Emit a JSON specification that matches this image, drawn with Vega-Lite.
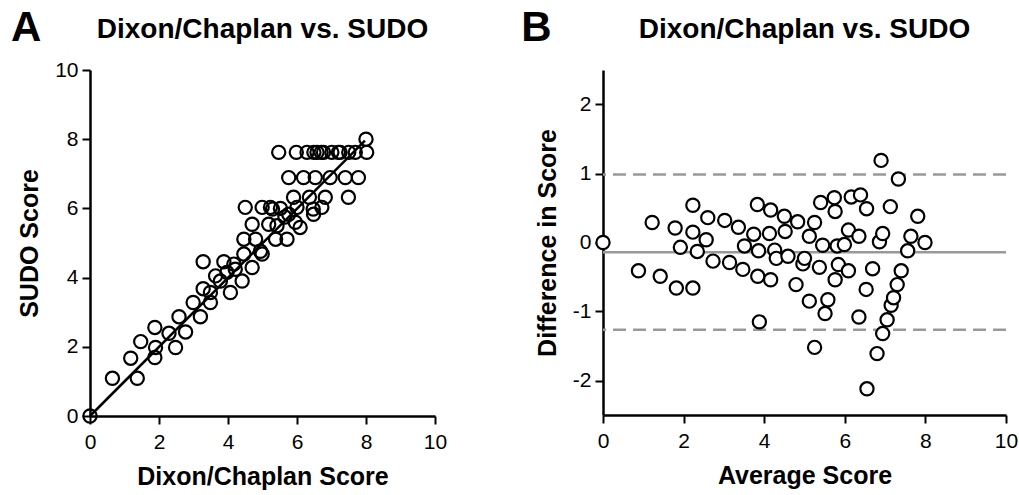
{
  "$schema": "https://vega.github.io/schema/vega-lite/v6.json",
  "background": "white",
  "padding": {"left": 10, "top": 6, "right": 5, "bottom": 5},
  "spacing": 74,
  "config": {
    "view": {"stroke": null},
    "font": "Liberation Sans",
    "title": {"font": "Liberation Sans", "fontSize": 28, "fontWeight": "bold", "color": "black", "offset": -37},
    "axis": {
      "grid": false,
      "domainColor": "black",
      "domainWidth": 2.5,
      "tickColor": "black",
      "tickWidth": 2,
      "tickSize": 8,
      "labelFont": "Liberation Sans",
      "labelFontSize": 21,
      "labelColor": "black",
      "labelFlush": false,
      "labelOverlap": false,
      "titleFont": "Liberation Sans",
      "titleFontSize": 25,
      "titleFontWeight": "bold",
      "titleColor": "black"
    },
    "axisX": {"labelPadding": 7, "titlePadding": 12},
    "axisY": {"labelPadding": 4, "titlePadding": 12}
  },
  "hconcat": [
    {
      "width": 345,
      "height": 346,
      "title": {"text": "Dixon/Chaplan vs. SUDO"},
      "layer": [
        {
          "data": {"values": [
            {"dixon": 0, "sudo": 0}, {"dixon": 0.65, "sudo": 1.09}, {"dixon": 1.18, "sudo": 1.67}, {"dixon": 1.37, "sudo": 1.09},
            {"dixon": 1.47, "sudo": 2.15}, {"dixon": 1.88, "sudo": 2.56}, {"dixon": 1.9, "sudo": 1.98}, {"dixon": 1.88, "sudo": 1.69},
            {"dixon": 2.29, "sudo": 2.39}, {"dixon": 2.48, "sudo": 1.98}, {"dixon": 2.58, "sudo": 2.87}, {"dixon": 2.77, "sudo": 2.43},
            {"dixon": 2.99, "sudo": 3.28}, {"dixon": 3.2, "sudo": 2.87}, {"dixon": 3.28, "sudo": 4.46}, {"dixon": 3.28, "sudo": 3.68},
            {"dixon": 3.49, "sudo": 3.57}, {"dixon": 3.49, "sudo": 3.28}, {"dixon": 3.64, "sudo": 4.05}, {"dixon": 3.78, "sudo": 3.9},
            {"dixon": 3.88, "sudo": 4.46}, {"dixon": 3.97, "sudo": 4.15}, {"dixon": 4.07, "sudo": 3.57}, {"dixon": 4.17, "sudo": 4.39},
            {"dixon": 4.21, "sudo": 4.24}, {"dixon": 4.41, "sudo": 3.9}, {"dixon": 4.46, "sudo": 4.68}, {"dixon": 4.46, "sudo": 5.11},
            {"dixon": 4.5, "sudo": 6.03}, {"dixon": 4.7, "sudo": 5.54}, {"dixon": 4.7, "sudo": 4.29}, {"dixon": 4.8, "sudo": 5.11},
            {"dixon": 4.94, "sudo": 4.76}, {"dixon": 4.99, "sudo": 4.68}, {"dixon": 4.99, "sudo": 6.03}, {"dixon": 5.18, "sudo": 5.54},
            {"dixon": 5.23, "sudo": 6.03}, {"dixon": 5.29, "sudo": 5.98}, {"dixon": 5.38, "sudo": 5.11}, {"dixon": 5.42, "sudo": 5.5},
            {"dixon": 5.47, "sudo": 7.62}, {"dixon": 5.52, "sudo": 6.0}, {"dixon": 5.65, "sudo": 5.75}, {"dixon": 5.71, "sudo": 5.11},
            {"dixon": 5.76, "sudo": 6.89}, {"dixon": 5.76, "sudo": 5.83}, {"dixon": 5.9, "sudo": 6.32}, {"dixon": 5.95, "sudo": 5.6},
            {"dixon": 5.98, "sudo": 7.62}, {"dixon": 6.0, "sudo": 6.03}, {"dixon": 6.09, "sudo": 5.45}, {"dixon": 6.19, "sudo": 6.89},
            {"dixon": 6.29, "sudo": 7.62}, {"dixon": 6.36, "sudo": 6.32}, {"dixon": 6.47, "sudo": 5.98}, {"dixon": 6.48, "sudo": 5.83},
            {"dixon": 6.49, "sudo": 7.62}, {"dixon": 6.53, "sudo": 6.89}, {"dixon": 6.58, "sudo": 7.62}, {"dixon": 6.7, "sudo": 7.62},
            {"dixon": 6.72, "sudo": 6.03}, {"dixon": 6.77, "sudo": 7.62}, {"dixon": 6.82, "sudo": 6.32}, {"dixon": 6.96, "sudo": 6.89},
            {"dixon": 7.01, "sudo": 7.62}, {"dixon": 7.2, "sudo": 7.62}, {"dixon": 7.25, "sudo": 7.62}, {"dixon": 7.4, "sudo": 6.89},
            {"dixon": 7.49, "sudo": 6.32}, {"dixon": 7.5, "sudo": 7.62}, {"dixon": 7.69, "sudo": 7.62}, {"dixon": 7.78, "sudo": 6.89},
            {"dixon": 8.0, "sudo": 8.0}, {"dixon": 8.02, "sudo": 7.62}
          ]},
          "mark": {"type": "point", "shape": "circle", "size": 175, "filled": false, "stroke": "black", "strokeWidth": 2.2, "opacity": 1},
          "encoding": {
            "x": {"field": "dixon", "type": "quantitative", "scale": {"domain": [0, 10], "nice": false, "zero": false}, "axis": {"values": [0, 2, 4, 6, 8, 10], "title": "Dixon/Chaplan Score"}},
            "y": {"field": "sudo", "type": "quantitative", "scale": {"domain": [0, 10], "nice": false, "zero": false}, "axis": {"values": [0, 2, 4, 6, 8, 10], "title": "SUDO Score"}}
          }
        },
        {
          "data": {"values": [{"dixon": 0, "sudo": 0}, {"dixon": 7.97, "sudo": 7.96}]},
          "mark": {"type": "line", "color": "black", "strokeWidth": 2.5},
          "encoding": {
            "x": {"field": "dixon", "type": "quantitative"},
            "y": {"field": "sudo", "type": "quantitative"}
          }
        },
        {
          "data": {"values": [{"panel": "A"}]},
          "mark": {"type": "text", "fontSize": 42, "fontWeight": "bold", "font": "Liberation Sans", "align": "left", "baseline": "alphabetic", "color": "black", "clip": false},
          "encoding": {
            "text": {"field": "panel", "type": "nominal"},
            "x": {"datum": -2.29, "type": "quantitative"},
            "y": {"datum": 10.84, "type": "quantitative"}
          }
        }
      ]
    },
    {
      "width": 403,
      "height": 345,
      "title": {"text": "Dixon/Chaplan vs. SUDO"},
      "layer": [
        {
          "data": {"values": [{"diff": -0.14}]},
          "mark": {"type": "rule", "color": "#999999", "strokeWidth": 2.5},
          "encoding": {"y": {"field": "diff", "type": "quantitative"}}
        },
        {
          "data": {"values": [{"diff": 0.985}, {"diff": -1.265}]},
          "mark": {"type": "rule", "color": "#999999", "strokeWidth": 2.5, "strokeDash": [13, 7]},
          "encoding": {"y": {"field": "diff", "type": "quantitative"}}
        },
        {
          "data": {"values": [
            {"avg": 0, "diff": 0}, {"avg": 0.88, "diff": -0.41}, {"avg": 1.22, "diff": 0.29}, {"avg": 1.42, "diff": -0.49},
            {"avg": 1.79, "diff": 0.21}, {"avg": 1.82, "diff": -0.66}, {"avg": 1.92, "diff": -0.07}, {"avg": 2.23, "diff": 0.54},
            {"avg": 2.23, "diff": 0.15}, {"avg": 2.23, "diff": -0.66}, {"avg": 2.34, "diff": -0.13}, {"avg": 2.56, "diff": 0.04},
            {"avg": 2.6, "diff": 0.36}, {"avg": 2.73, "diff": -0.27}, {"avg": 3.02, "diff": 0.32}, {"avg": 3.14, "diff": -0.29},
            {"avg": 3.36, "diff": 0.22}, {"avg": 3.47, "diff": -0.39}, {"avg": 3.51, "diff": -0.05}, {"avg": 3.74, "diff": 0.12},
            {"avg": 3.83, "diff": 0.55}, {"avg": 3.84, "diff": -0.49}, {"avg": 3.86, "diff": -0.12}, {"avg": 3.88, "diff": -1.15},
            {"avg": 4.13, "diff": 0.13}, {"avg": 4.16, "diff": 0.47}, {"avg": 4.16, "diff": -0.54}, {"avg": 4.26, "diff": -0.11},
            {"avg": 4.3, "diff": -0.23}, {"avg": 4.5, "diff": 0.38}, {"avg": 4.52, "diff": 0.16}, {"avg": 4.59, "diff": -0.2},
            {"avg": 4.79, "diff": -0.61}, {"avg": 4.83, "diff": 0.3}, {"avg": 4.96, "diff": -0.31}, {"avg": 5.0, "diff": -0.23},
            {"avg": 5.12, "diff": 0.09}, {"avg": 5.12, "diff": -0.85}, {"avg": 5.25, "diff": 0.29}, {"avg": 5.25, "diff": -1.52},
            {"avg": 5.37, "diff": -0.36}, {"avg": 5.4, "diff": 0.58}, {"avg": 5.45, "diff": -0.04}, {"avg": 5.51, "diff": -1.03},
            {"avg": 5.58, "diff": -0.83}, {"avg": 5.74, "diff": 0.65}, {"avg": 5.76, "diff": 0.45}, {"avg": 5.76, "diff": -0.54},
            {"avg": 5.81, "diff": -0.05}, {"avg": 5.84, "diff": -0.32}, {"avg": 5.99, "diff": -0.03}, {"avg": 6.09, "diff": 0.18},
            {"avg": 6.09, "diff": -0.41}, {"avg": 6.16, "diff": 0.66}, {"avg": 6.35, "diff": 0.09}, {"avg": 6.35, "diff": -1.08},
            {"avg": 6.39, "diff": 0.69}, {"avg": 6.53, "diff": -0.68}, {"avg": 6.54, "diff": 0.49}, {"avg": 6.55, "diff": -2.12},
            {"avg": 6.69, "diff": -0.38}, {"avg": 6.8, "diff": -1.61}, {"avg": 6.86, "diff": 0.01}, {"avg": 6.9, "diff": 1.19},
            {"avg": 6.94, "diff": 0.13}, {"avg": 6.94, "diff": -1.32}, {"avg": 7.05, "diff": -1.12}, {"avg": 7.13, "diff": 0.52},
            {"avg": 7.15, "diff": -0.91}, {"avg": 7.21, "diff": -0.8}, {"avg": 7.3, "diff": -0.61}, {"avg": 7.33, "diff": 0.92},
            {"avg": 7.4, "diff": -0.41}, {"avg": 7.56, "diff": -0.12}, {"avg": 7.64, "diff": 0.09}, {"avg": 7.81, "diff": 0.38},
            {"avg": 7.99, "diff": 0.0}
          ]},
          "mark": {"type": "point", "shape": "circle", "size": 175, "filled": true, "fill": "white", "stroke": "black", "strokeWidth": 2.2, "opacity": 1},
          "encoding": {
            "x": {"field": "avg", "type": "quantitative", "scale": {"domain": [0, 10], "nice": false, "zero": false}, "axis": {"values": [0, 2, 4, 6, 8, 10], "title": "Average Score"}},
            "y": {"field": "diff", "type": "quantitative", "scale": {"domain": [-2.5, 2.5], "nice": false, "zero": false}, "axis": {"values": [-2, -1, 0, 1, 2], "title": "Difference in Score", "labelExpr": "datum.value < 0 ? '-' + abs(datum.value) : '' + datum.value"}}
          }
        },
        {
          "data": {"values": [{"panel": "B"}]},
          "mark": {"type": "text", "fontSize": 42, "fontWeight": "bold", "font": "Liberation Sans", "align": "left", "baseline": "alphabetic", "color": "black", "clip": false},
          "encoding": {
            "text": {"field": "panel", "type": "nominal"},
            "x": {"datum": -2.03, "type": "quantitative"},
            "y": {"datum": 2.92, "type": "quantitative"}
          }
        }
      ]
    }
  ]
}
